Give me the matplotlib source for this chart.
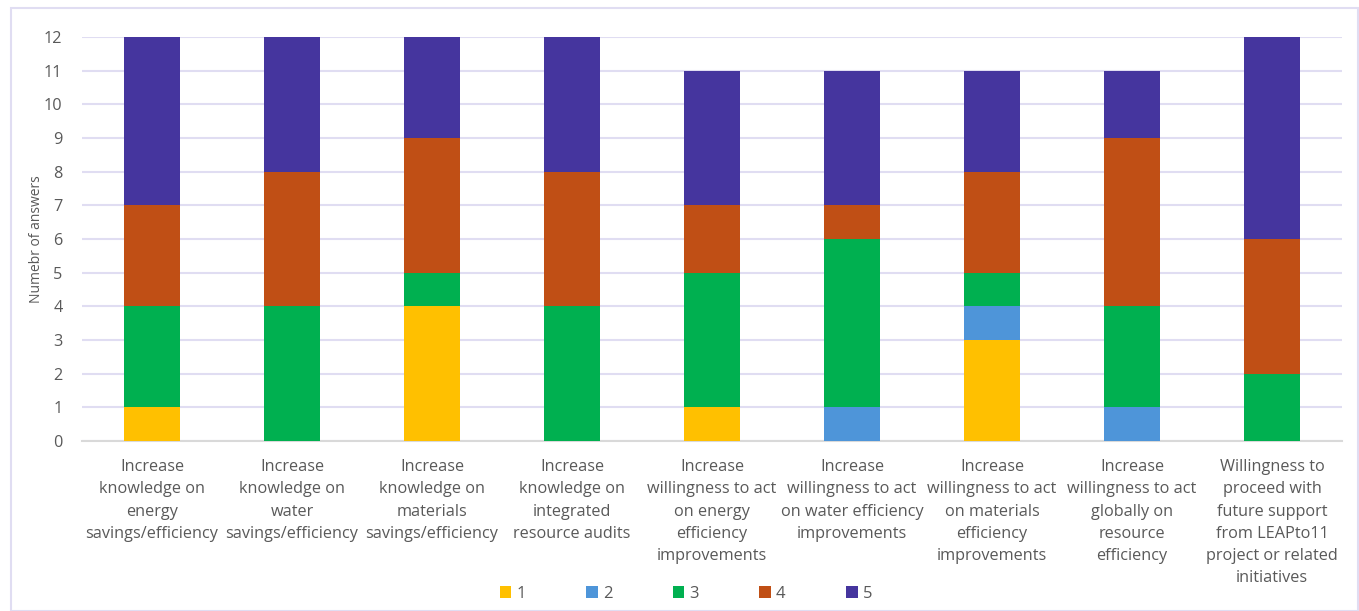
import numpy as np
import matplotlib.pyplot as plt
from matplotlib.patches import Rectangle

plt.rcParams['font.family'] = ['Open Sans', 'DejaVu Sans']

categories = [
    "Increase\nknowledge on\nenergy\nsavings/efficiency",
    "Increase\nknowledge on\nwater\nsavings/efficiency",
    "Increase\nknowledge on\nmaterials\nsavings/efficiency",
    "Increase\nknowledge on\nintegrated\nresource audits",
    "Increase\nwillingness to act\non energy\nefficiency\nimprovements",
    "Increase\nwillingness to act\non water efficiency\nimprovements",
    "Increase\nwillingness to act\non materials\nefficiency\nimprovements",
    "Increase\nwillingness to act\nglobally on\nresource\nefficiency",
    "Willingness to\nproceed with\nfuture support\nfrom LEAPto11\nproject or related\ninitiatives",
]
score_1 = [1, 0, 4, 0, 1, 0, 3, 0, 0]
score_2 = [0, 0, 0, 0, 0, 1, 1, 1, 0]
score_3 = [3, 4, 1, 4, 4, 5, 1, 3, 2]
score_4 = [3, 4, 4, 4, 2, 1, 3, 5, 4]
score_5 = [5, 4, 3, 4, 4, 4, 3, 2, 6]
series_names = ["1", "2", "3", "4", "5"]
colors = ["#FFC000", "#4E95D9", "#00B050", "#C04F15", "#45359E"]

fig = plt.figure(figsize=(13.59, 6.11), dpi=100)
ax = fig.add_axes([82 / 1359, 1 - 441 / 611, 1260 / 1359, 404 / 611])

# light frame around the whole chart
fig.patches.append(Rectangle((11 / 1359, 0), 1347 / 1359, 1 - 8 / 611,
                             transform=fig.transFigure, fill=False,
                             edgecolor="#E0DDF2", linewidth=1.5))

x = np.arange(len(categories))
bottom = np.zeros(len(categories))
for name, vals, c in zip(series_names, [score_1, score_2, score_3, score_4, score_5], colors):
    ax.bar(x, vals, width=0.4, bottom=bottom, color=c, label=name, zorder=3)
    bottom += np.array(vals)

ax.set_xlim(-0.5, len(categories) - 0.5)
ax.set_ylim(0, 12)
ax.set_yticks(range(0, 13))
ax.yaxis.grid(True, color="#E0DDF2", linewidth=1.5, zorder=0)
ax.set_axisbelow(True)
for s in ["top", "right", "left"]:
    ax.spines[s].set_visible(False)
ax.spines["bottom"].set_color("#D9D9D9")
ax.spines["bottom"].set_linewidth(1.5)
ax.tick_params(axis="both", length=0, labelsize=11.7, colors="#595959")
ax.tick_params(axis="y", pad=14)
ax.set_xticks(x)
ax.set_xticklabels(categories, linespacing=1.52)
ax.tick_params(axis="x", pad=13)
ax.set_ylabel("Numebr of answers", fontsize=10, color="#595959", labelpad=0)

fig.legend(loc="center", bbox_to_anchor=(686 / 1359, 1 - 594 / 611), ncol=5,
           frameon=False, fontsize=12, labelcolor="#595959",
           handlelength=0.7, handleheight=0.7, handletextpad=0.3, columnspacing=3.63)

fig.savefig("out.png", dpi=100)
